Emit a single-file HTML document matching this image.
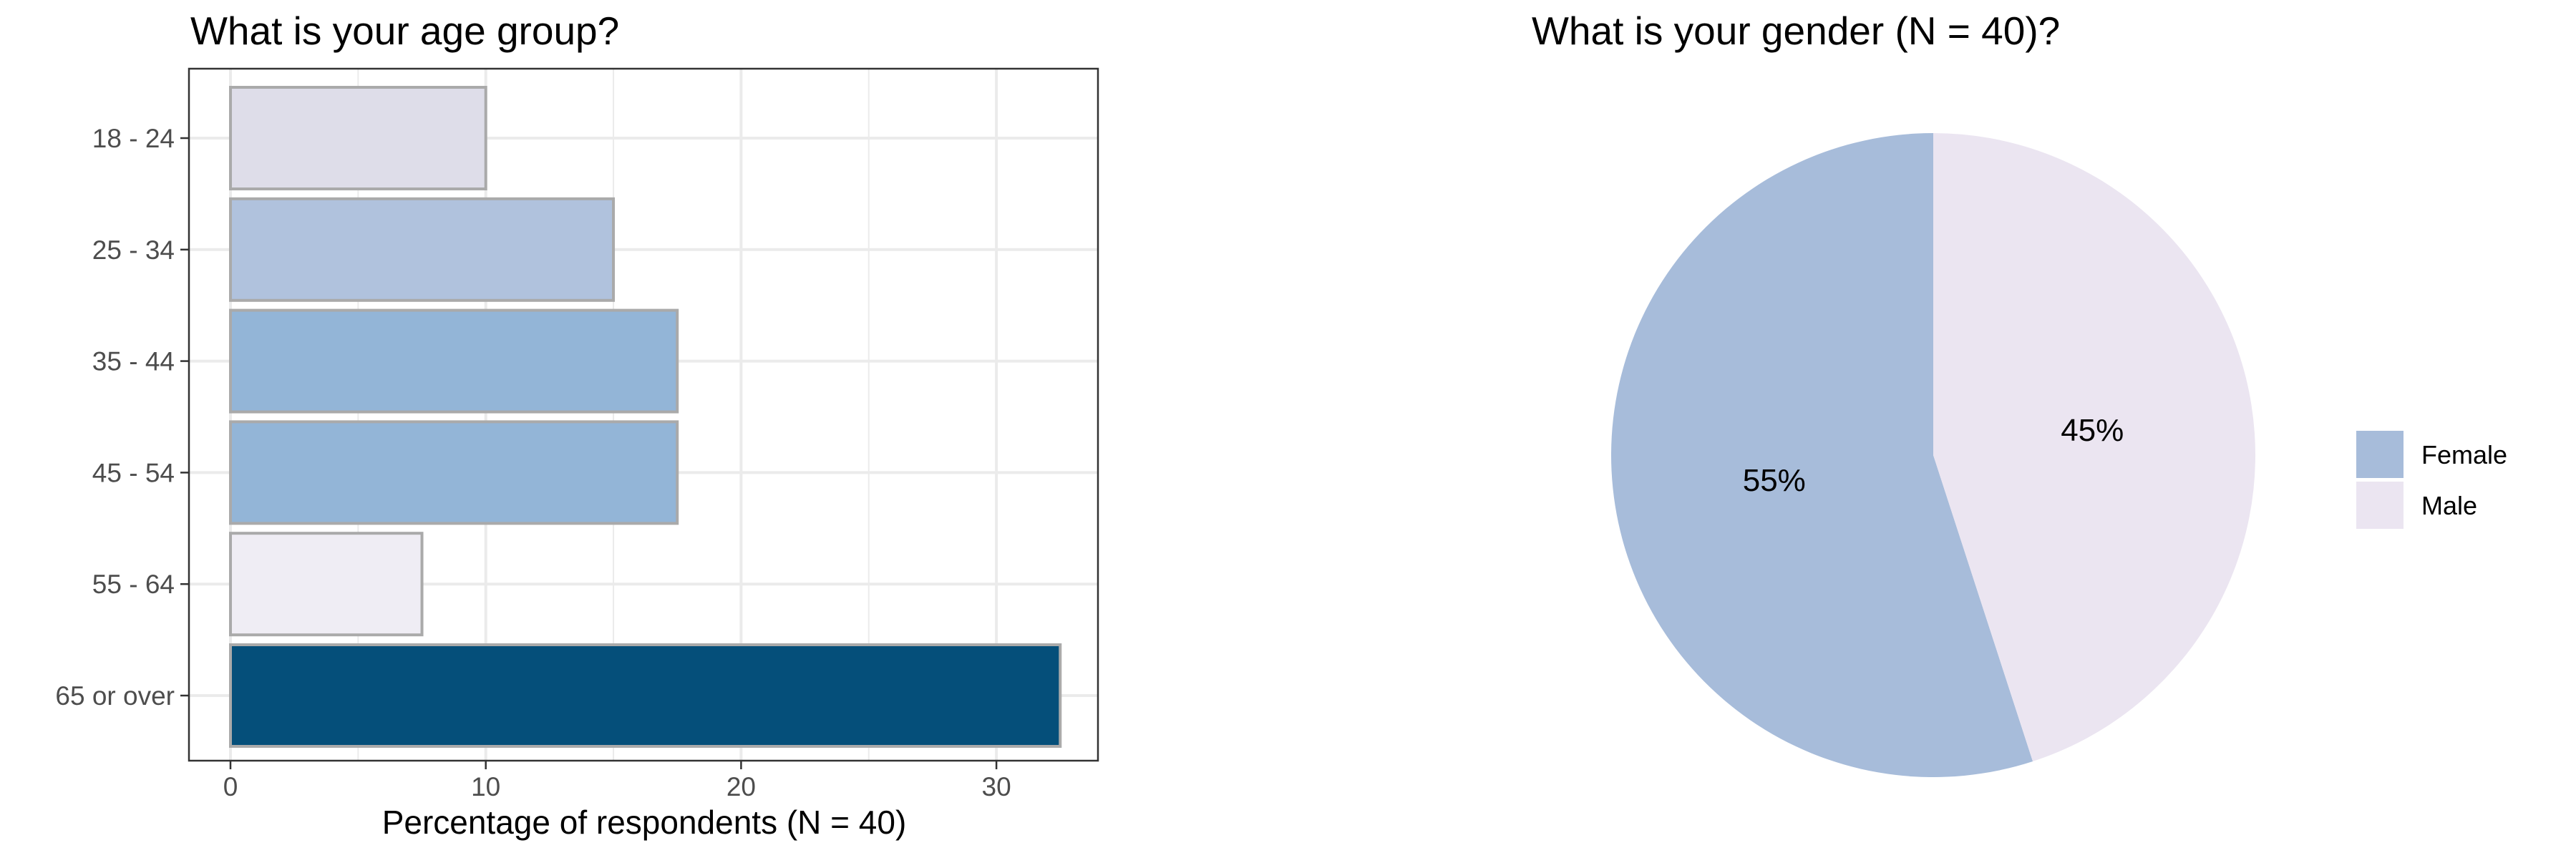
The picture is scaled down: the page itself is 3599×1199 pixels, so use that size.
<!DOCTYPE html>
<html><head><meta charset="utf-8"><style>
html,body{margin:0;padding:0;background:#fff;}
svg{display:block;font-family:"Liberation Sans",sans-serif;}
</style></head><body>
<svg id="chart" width="3599" height="1199" viewBox="0 0 3599 1199">
<text x="266" y="62" font-size="55" fill="#000">What is your age group?</text>
<g id="bar-grid"></g>
<g id="bars"></g>
<rect x="264" y="96" width="1270" height="967" fill="none" stroke="#333" stroke-width="2.5"/>
<g id="axes"></g>
<text x="900" y="1165" font-size="46" text-anchor="middle" fill="#000">Percentage of respondents (N = 40)</text>
<text x="2140" y="62" font-size="55" fill="#000">What is your gender (N = 40)?</text>
<g id="pie"></g>
<g id="legend"></g>
</svg>
<script>
const categories = ["18 - 24","25 - 34","35 - 44","45 - 54","55 - 64","65 or over"];
const values = [10, 15, 17.5, 17.5, 7.5, 32.5];
const barColors = ["#dedde9","#b0c2dd","#93b5d7","#93b5d7","#efedf4","#054f7a"];
const xTicks = [0, 10, 20, 30];
const xMinor = [5, 15, 25];
const pieLabels = ["Female","Male"];
const pieValues = [55, 45];
const pieColors = ["#a7bcda","#ebe5f1"];

const NS = "http://www.w3.org/2000/svg";
function mk(tag, attrs, parent){const e=document.createElementNS(NS,tag);for(const k in attrs)e.setAttribute(k,attrs[k]);parent.appendChild(e);return e;}
const X0=322, XU=35.67;
const xs = v => X0 + v*XU;
const yTop=96, yBot=1063, xL=264, xR=1534;
const yc = i => 193 + i*155.8;

const grid=document.getElementById('bar-grid');
xMinor.forEach(v=>{const l=mk('line',{x1:xs(v),x2:xs(v),y1:yTop,y2:yBot,stroke:'#ebebeb','stroke-width':2},grid);

});
xTicks.forEach(v=>{const l=mk('line',{x1:xs(v),x2:xs(v),y1:yTop,y2:yBot,stroke:'#ebebeb','stroke-width':4},grid);

});
categories.forEach((c,i)=>{const l=mk('line',{x1:xL,x2:xR,y1:yc(i),y2:yc(i),stroke:'#ebebeb','stroke-width':4},grid);

});

const bars=document.getElementById('bars');
const bh=142;
values.forEach((v,i)=>{const r=mk('rect',{x:xs(0),y:yc(i)-bh/2,width:xs(v)-xs(0),height:bh,fill:barColors[i],stroke:'#aaaaaa','stroke-width':4},bars);

});

const ax=document.getElementById('axes');
categories.forEach((c,i)=>{
const t=mk('line',{x1:xL-12,x2:xL,y1:yc(i),y2:yc(i),stroke:'#333','stroke-width':2.5},ax);


const tx=mk('text',{x:xL-20,y:yc(i)+13,'font-size':37,'text-anchor':'end',fill:'#4d4d4d'},ax);
tx.textContent=c;

});
xTicks.forEach(v=>{
const t=mk('line',{x1:xs(v),x2:xs(v),y1:yBot,y2:yBot+12,stroke:'#333','stroke-width':2.5},ax);


const tx=mk('text',{x:xs(v),y:1112,'font-size':37,'text-anchor':'middle',fill:'#4d4d4d'},ax);
tx.textContent=v;

});

const pie=document.getElementById('pie');
const cx=2701, cy=636, R=450;
const total=pieValues.reduce((a,b)=>a+b,0);
let start=0;
pieValues.forEach((v,i)=>{
  const a0=-start/total*2*Math.PI, a1=-(start+v)/total*2*Math.PI;
  const p=(a)=>[cx+R*Math.sin(a), cy-R*Math.cos(a)];
  const [x0,y0]=p(a0),[x1,y1]=p(a1);
  const large=v/total>0.5?1:0;
  const path=mk('path',{d:`M${cx},${cy} L${x0},${y0} A${R},${R} 0 ${large} 0 ${x1},${y1} Z`,fill:pieColors[i]},pie);
  
  
  const am=-(start+v/2)/total*2*Math.PI;
  const lr=R*0.5;
  const t=mk('text',{x:cx+lr*Math.sin(am),y:cy-lr*Math.cos(am)+15,'font-size':44,'text-anchor':'middle',fill:'#000'},pie);
  t.textContent=v+'%';
  
  
  start+=v;
});

const lg=document.getElementById('legend');
pieLabels.forEach((n,i)=>{
  const r=mk('rect',{x:3292,y:602+i*71,width:66,height:66,fill:pieColors[i]},lg);
  
  
  const t=mk('text',{x:3383,y:648+i*71,'font-size':36,fill:'#000'},lg);
  t.textContent=n;
  
  
});
</script>
</body></html>
